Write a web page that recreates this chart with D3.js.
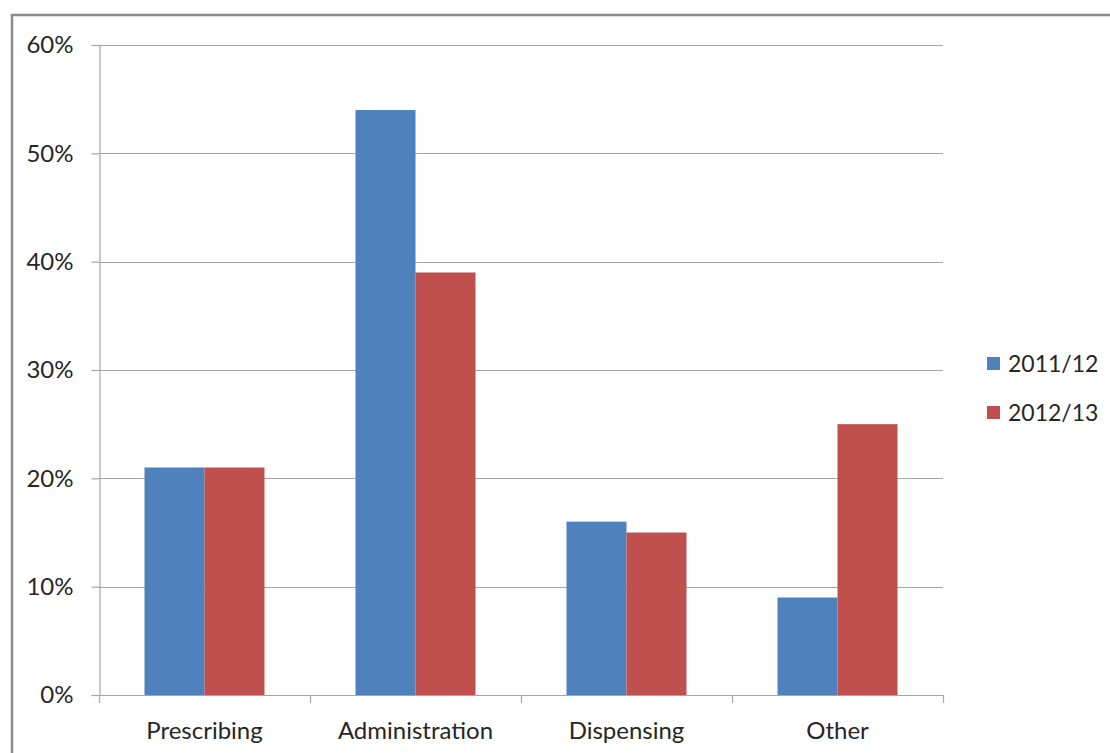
<!DOCTYPE html>
<html>
<head>
<meta charset="utf-8">
<script src="https://cdn.jsdelivr.net/npm/d3@7"></script>
<style>
  html, body { margin: 0; padding: 0; background: #fff; }
  svg { display: block; }
  text { font-family: Lato, "Open Sans", sans-serif; fill: #262626; }
</style>
</head>
<body>
<svg id="chart" width="1110" height="753"></svg>
<script>
// Share of incidents by stage, two reporting years
const categories = ["Prescribing", "Administration", "Dispensing", "Other"];
const seriesNames = ["2011/12", "2012/13"];
const values2011 = [21, 54, 16, 9];
const values2012 = [21, 39, 15, 25];
const yTicks = [0, 10, 20, 30, 40, 50, 60];
const colors = ["#4f81bd", "#c0504d"];

const svg = d3.select("#chart");
const W = 1110, H = 753;

// outer frame (runs off the right and bottom edges)
svg.append("rect")
  .attr("x", 12).attr("y", 15)
  .attr("width", W + 20).attr("height", H + 20)
  .attr("fill", "none").attr("stroke", "#8c8c8c").attr("stroke-width", 2.5);

const plot = { left: 99, right: 943, top: 45, bottom: 695 };

const y = d3.scaleLinear().domain([0, 60]).range([plot.bottom, plot.top]);
const x0 = d3.scaleBand().domain(categories)
  .range([plot.left, plot.right])
  .paddingInner(0.4313).paddingOuter(0.2156);
const x1 = d3.scaleBand().domain(seriesNames).range([0, x0.bandwidth()]);

// gridlines
svg.append("g")
  .selectAll("line").data(yTicks.filter(d => d > 0)).join("line")
  .attr("x1", plot.left).attr("x2", plot.right)
  .attr("y1", d => Math.round(y(d)) + 0.5).attr("y2", d => Math.round(y(d)) + 0.5)
  .attr("stroke", "#a6a6a6").attr("stroke-width", 1.2);

// y axis
const yAxis = svg.append("g")
  .attr("transform", `translate(${plot.left + 0.5},0)`)
  .call(d3.axisLeft(y).tickValues(yTicks).tickFormat(d => d + "%").tickSize(8).tickPadding(18));
yAxis.select(".domain").attr("stroke", "#a6a6a6").attr("stroke-width", 1.2);
yAxis.selectAll(".tick line").attr("stroke", "#a6a6a6").attr("stroke-width", 1.2);
yAxis.selectAll(".tick text").style("font-size", "24px").attr("fill", "#262626");

// bars
const data = categories.map((c, i) => ({ cat: c, vals: [values2011[i], values2012[i]] }));
svg.append("g").selectAll("g").data(data).join("g")
  .attr("transform", d => `translate(${x0(d.cat)},0)`)
  .selectAll("rect").data(d => d.vals.map((v, k) => ({ key: seriesNames[k], v, k })))
  .join("rect")
  .attr("x", d => x1(d.key))
  .attr("y", d => y(d.v))
  .attr("width", x1.bandwidth())
  .attr("height", d => y(0) - y(d.v))
  .attr("fill", d => colors[d.k]);

// x axis with boundary ticks between categories
const xg = svg.append("g");
xg.append("line")
  .attr("x1", plot.left).attr("x2", plot.right)
  .attr("y1", plot.bottom + 0.5).attr("y2", plot.bottom + 0.5)
  .attr("stroke", "#a6a6a6").attr("stroke-width", 1.2);
const bounds = d3.range(categories.length + 1).map(i => plot.left + i * (plot.right - plot.left) / categories.length);
xg.selectAll(".bt").data(bounds).join("line")
  .attr("x1", d => Math.round(d) + 0.5).attr("x2", d => Math.round(d) + 0.5)
  .attr("y1", plot.bottom).attr("y2", plot.bottom + 8)
  .attr("stroke", "#a6a6a6").attr("stroke-width", 1.2);
xg.selectAll("text").data(categories).join("text")
  .attr("x", d => x0(d) + x0.bandwidth() / 2)
  .attr("y", 739)
  .attr("text-anchor", "middle")
  .style("font-size", "24px")
  .text(d => d);

// legend
const legend = svg.append("g").attr("transform", "translate(987,0)");
const ly = [364, 413];
seriesNames.forEach((s, i) => {
  legend.append("rect").attr("x", 0).attr("y", ly[i] - 7).attr("width", 13).attr("height", 13).attr("fill", colors[i]);
  legend.append("text").attr("x", 21).attr("y", ly[i] + 8).style("font-size", "23px").text(s);
});
</script>
</body>
</html>
